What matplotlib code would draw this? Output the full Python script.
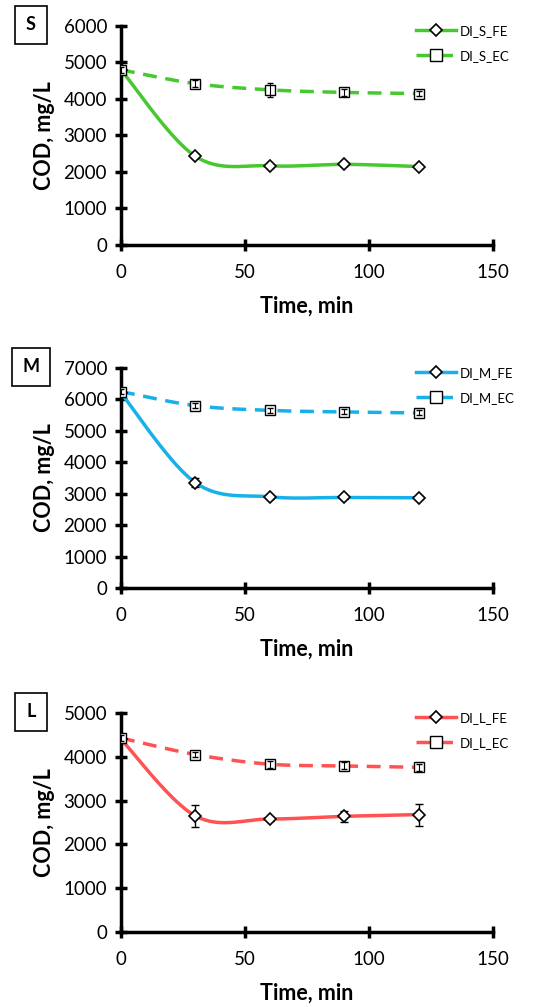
import numpy as np
import matplotlib.pyplot as plt

plt.rcParams['font.family'] = ['Lato', 'DejaVu Sans']

# =====================================================
# DATA
# =====================================================

time = [0, 30, 60, 90, 120]

s_fe = [4800, 2430, 2170, 2210, 2150]
s_fe_err = [60, 60, 50, 50, 40]
s_ec = [4800, 4420, 4250, 4180, 4150]
s_ec_err = [80, 100, 200, 100, 60]

m_fe = [6200, 3350, 2900, 2880, 2870]
m_fe_err = [60, 150, 60, 50, 50]
m_ec = [6250, 5800, 5650, 5600, 5570]
m_ec_err = [80, 80, 80, 80, 80]

l_fe = [4400, 2650, 2580, 2640, 2680]
l_fe_err = [60, 250, 50, 120, 250]
l_ec = [4430, 4050, 3830, 3790, 3760]
l_ec_err = [60, 60, 80, 80, 80]

panels = [
    ("S", "DI_S", s_fe, s_fe_err, s_ec, s_ec_err, "#47C82F", 6000),
    ("M", "DI_M", m_fe, m_fe_err, m_ec, m_ec_err, "#17B0E8", 7000),
    ("L", "DI_L", l_fe, l_fe_err, l_ec, l_ec_err, "#FF5252", 5000),
]

# axes rectangles (fig fraction)
rects = [
    [0.2184, 0.7567, 0.6715, 0.2175],
    [0.2184, 0.4161, 0.6715, 0.2185],
    [0.2184, 0.0745, 0.6715, 0.2175],
]


def smooth(x, y, n=40):
    # Excel-like smoothed line (cardinal spline through points)
    x = np.asarray(x, float)
    y = np.asarray(y, float)
    px = np.concatenate([[x[0]], x, [x[-1]]])
    py = np.concatenate([[y[0]], y, [y[-1]]])
    xs, ys = [], []
    t = np.linspace(0, 1, n)
    for i in range(1, len(px) - 2):
        p0, p1, p2, p3 = [np.array([px[j], py[j]]) for j in (i - 1, i, i + 1, i + 2)]
        c1 = p1 + (p2 - p0) / 6
        c2 = p2 - (p3 - p1) / 6
        pts = ((1 - t) ** 3)[:, None] * p1 + (3 * (1 - t) ** 2 * t)[:, None] * c1 \
            + (3 * (1 - t) * t ** 2)[:, None] * c2 + (t ** 3)[:, None] * p2
        xs.extend(pts[:, 0])
        ys.extend(pts[:, 1])
    return xs, ys


fig = plt.figure(figsize=(5.54, 10.07), dpi=100)

for (tag, name, fe, fe_err, ec, ec_err, color, ymax), rect in zip(panels, rects):
    ax = fig.add_axes(rect)

    sx, sy = smooth(time, fe)
    ax.plot(sx, sy, color=color, lw=2.5, zorder=2)
    ex, ey = smooth(time, ec)
    ax.plot(ex, ey, color=color, lw=2.5, ls=(0, (4, 2.5)), zorder=2)

    ax.errorbar(time, fe, yerr=fe_err, fmt="none", ecolor="black", elinewidth=1,
                capsize=3, zorder=3)
    ax.plot(time, fe, ls="none", marker="D", ms=6.5, mfc="white", mec="black",
            mew=1.2, zorder=4)
    ax.plot(time, ec, ls="none", marker="s", ms=7.5, mfc="white", mec="black",
            mew=1.0, zorder=4)
    ax.errorbar(time, ec, yerr=ec_err, fmt="none", ecolor="black", elinewidth=0.8,
                capsize=2, zorder=5)

    # legend proxies
    h1, = ax.plot([], [], color=color, lw=2.5, marker="D", ms=6, mfc="white",
                  mec="black", mew=1.2)
    h2, = ax.plot([], [], color=color, lw=2.5, ls=(0, (4, 2.5)), marker="s", ms=8,
                  mfc="white", mec="black", mew=1.0)
    ax.legend([h1, h2], [name + "_FE", name + "_EC"], loc="upper left",
              bbox_to_anchor=(0.78, 1.03), frameon=False, fontsize=9.5,
              handlelength=3.0, handletextpad=0.3, labelspacing=1.0,
              borderaxespad=0)

    ax.set_xlim(0, 150)
    ax.set_ylim(0, ymax)
    ax.set_xticks([0, 50, 100, 150])
    ax.set_yticks(np.arange(0, ymax + 1, 1000))
    for side in ("top", "right"):
        ax.spines[side].set_visible(False)
    for side in ("left", "bottom"):
        ax.spines[side].set_linewidth(2.5)
    ax.tick_params(direction="inout", length=8, width=2.5, labelsize=13.5,
                   pad=6)
    ax.tick_params(axis="x", pad=10)
    ax.set_xlabel("Time, min", fontsize=15.5, fontweight="bold", labelpad=10)
    ax.set_ylabel("COD, mg/L", fontsize=15.5, fontweight="bold", labelpad=6)

    # panel tag box
    fig.text(31 / 554, rect[1] + rect[3] + 0.001, tag, ha="center", va="center",
             fontsize=13, fontweight="bold",
             bbox=dict(boxstyle="square,pad=0.6", fc="white", ec="black", lw=1.2))

fig.savefig("out.png", dpi=100)
